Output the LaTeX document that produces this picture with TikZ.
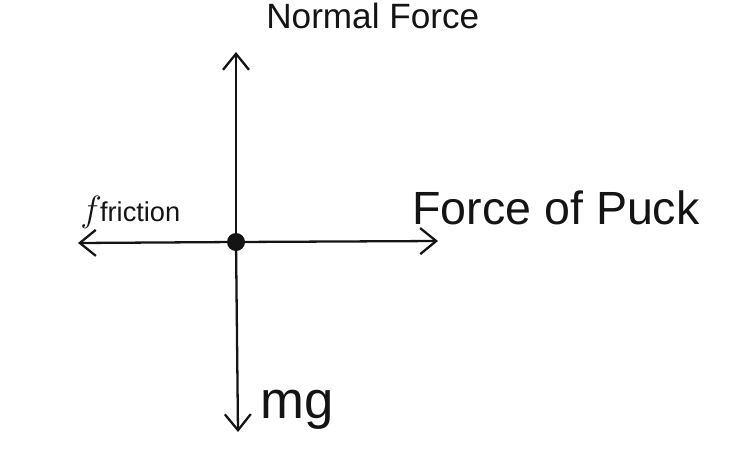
\documentclass[tikz,border=0pt]{standalone}
\usepackage{fontspec}
\setmainfont{Liberation Sans}
\usetikzlibrary{arrows.meta}
\definecolor{penink}{HTML}{141414}
\tikzset{
  force arrow/.style={
    draw=penink, line width=1.3pt, line cap=round,
    -{Straight Barb[length=3.2mm,width=5.2mm,line width=1.3pt]}
  },
  body dot/.style={
    circle, fill=penink, minimum size=3.6mm, inner sep=0pt, outer sep=0pt
  },
  force label/.style={
    text=penink, inner sep=0pt, anchor=west
  }
}

\begin{document}
\begin{tikzpicture}[x=0.02cm,y=-0.02cm]
  \useasboundingbox (0,0) rectangle (749,453);
  % The body sits where the four forces meet.
  \node[body dot] (puck) at (236,242) {};
  \coordinate (up)    at (236,52);
  \coordinate (down)  at (238,432);
  \coordinate (left)  at (78,243);
  \coordinate (right) at (438,241);

  % Forces on the puck.
  \draw[force arrow] (puck) -- (up);
  \draw[force arrow] (puck) -- (down);
  \draw[force arrow] (puck) -- (left);
  \draw[force arrow] (puck) -- (right);

  % Labels next to the arrow tips.
  \node[force label,font=\fontsize{20}{22}\selectfont] (normal) at (266,16) {Normal Force};
  \node[force label,font=\fontsize{21}{23}\selectfont] (friction) at (80,212) {$f$\kern-1pt{\fontsize{15.5}{17}\selectfont friction}};
  \node[force label,font=\fontsize{26.5}{29}\selectfont] (push) at (412,208) {Force of Puck};
  \node[force label,font=\fontsize{30}{32}\selectfont] (weight) at (260,410) {mg};
\end{tikzpicture}
\end{document}
